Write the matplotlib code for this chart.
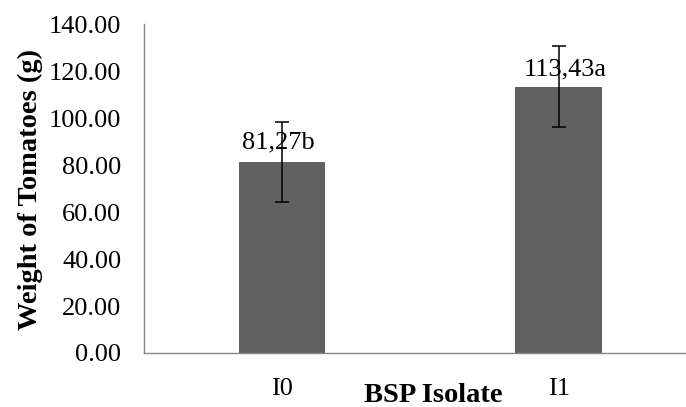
import numpy as np
import matplotlib
matplotlib.use("Agg")
import matplotlib.pyplot as plt

isolates = ["I0", "I1"]
weights = [81.27, 113.43]
errors = [17.2, 17.3]
letters = ["b", "a"]

plt.rcParams["font.family"] = "Liberation Serif"

fig = plt.figure(figsize=(6.86, 4.07), dpi=100)
ax = fig.add_axes([0.2092, 0.1327, 0.807, 0.808])

x = np.arange(len(isolates))
ax.bar(x, weights, width=0.313, color="#616161", zorder=2)
ax.errorbar(x, weights, yerr=errors, fmt="none", ecolor="black",
            elinewidth=1.1, capsize=5, capthick=1.1, zorder=3)

# value labels with significance letters
nudge = [(-2.7, 10), (4.6, 7.7)]
for i, (w, let) in enumerate(zip(weights, letters)):
    txt = f"{w:.2f}".replace(".", ",") + let
    ax.annotate(txt, (x[i], w), xytext=nudge[i], textcoords="offset points",
                ha="center", va="baseline", fontsize=19, zorder=4)

ax.set_xlim(-0.5, 1.5)
ax.set_ylim(0, 140)
ax.set_yticks(np.arange(0, 141, 20))
ax.set_yticklabels([f"{v:.2f}" for v in np.arange(0, 141, 20)])
ax.set_xticks(x)
ax.set_xticklabels(isolates)
ax.tick_params(axis="y", length=0, pad=16, labelsize=19)
ax.tick_params(axis="x", length=0, pad=18, labelsize=19)

for s in ["top", "right"]:
    ax.spines[s].set_visible(False)
for s in ["left", "bottom"]:
    ax.spines[s].set_color("#878787")
    ax.spines[s].set_linewidth(1.0)

fig.text(0.0535, 0.534, "Weight of Tomatoes (g)", rotation=90,
         rotation_mode="anchor", ha="center", va="baseline",
         fontsize=20.5, fontweight="bold")
fig.text(0.631, 0.013, "BSP Isolate", ha="center", va="baseline",
         fontsize=20.5, fontweight="bold")

fig.savefig("out.png", dpi=100)
